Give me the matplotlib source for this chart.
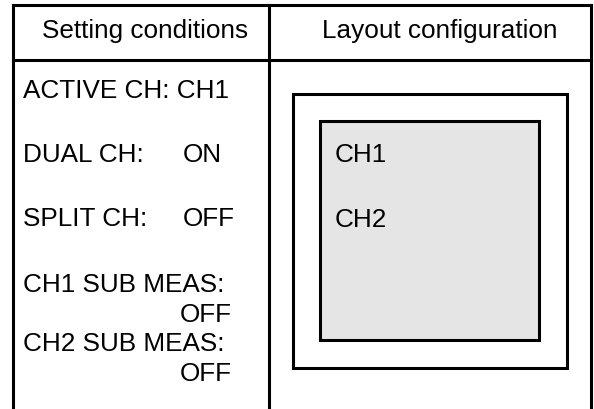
import matplotlib
matplotlib.use("Agg")
import matplotlib.pyplot as plt
from matplotlib.patches import Rectangle

# ---- content ----
headers = ["Setting conditions", "Layout configuration"]
condition_labels = ["ACTIVE CH:", "DUAL CH:", "SPLIT CH:", "CH1 SUB MEAS:", "CH2 SUB MEAS:"]
condition_values = ["CH1", "ON", "OFF", "OFF", "OFF"]
layout_channels = ["CH1", "CH2"]

W, H = 594, 409
fig = plt.figure(figsize=(W / 100, H / 100), dpi=100)
ax = fig.add_axes([0, 0, 1, 1])
ax.set_xlim(0, W)
ax.set_ylim(H, 0)
ax.axis("off")

plt.rcParams["font.family"] = ["Liberation Sans", "DejaVu Sans"]
FS = 18.8
LW = 2.2
col = "black"

# table lines
def line(x0, y0, x1, y1):
    ax.plot([x0, x1], [y0, y1], color=col, lw=LW, solid_capstyle="projecting")

line(13, 5, 591, 5)
line(13, 5, 13, H + 5)
line(591, 5, 591, H + 5)
line(269, 5, 269, H + 5)
line(13, 60, 591, 60)

# headers
ax.text(145, 38, headers[0], fontsize=FS, ha="center", va="baseline", family=["Liberation Sans"])
ax.text(440, 38, headers[1], fontsize=FS, ha="center", va="baseline", family=["Liberation Sans"])

# setting conditions
ax.text(23, 98, condition_labels[0] + " " + condition_values[0], fontsize=FS, va="baseline",
        family=["Liberation Sans"])
ax.text(23, 162, condition_labels[1], fontsize=FS, va="baseline", family=["Liberation Sans"])
ax.text(183, 162, condition_values[1], fontsize=FS, va="baseline", family=["Liberation Sans"])
ax.text(23, 226, condition_labels[2], fontsize=FS, va="baseline", family=["Liberation Sans"])
ax.text(183, 226, condition_values[2], fontsize=FS, va="baseline", family=["Liberation Sans"])
ax.text(23, 292, condition_labels[3], fontsize=FS, va="baseline", family=["Liberation Sans"])
ax.text(232, 322, condition_values[3], fontsize=FS, va="baseline", ha="right", family=["Liberation Sans"])
ax.text(23, 351, condition_labels[4], fontsize=FS, va="baseline", family=["Liberation Sans"])
ax.text(232, 381, condition_values[4], fontsize=FS, va="baseline", ha="right", family=["Liberation Sans"])

# layout configuration
ax.add_patch(Rectangle((293, 94), 567 - 293, 368 - 94, fill=False, ec=col, lw=LW,
                       joinstyle="miter"))
ax.add_patch(Rectangle((320, 121), 539 - 320, 340 - 121, fc="#e5e5e5", ec=col, lw=LW,
                       joinstyle="miter"))
ax.text(335, 162, layout_channels[0], fontsize=FS, va="baseline", family=["Liberation Sans"])
ax.text(335, 227, layout_channels[1], fontsize=FS, va="baseline", family=["Liberation Sans"])

fig.savefig("out.png", dpi=100)
